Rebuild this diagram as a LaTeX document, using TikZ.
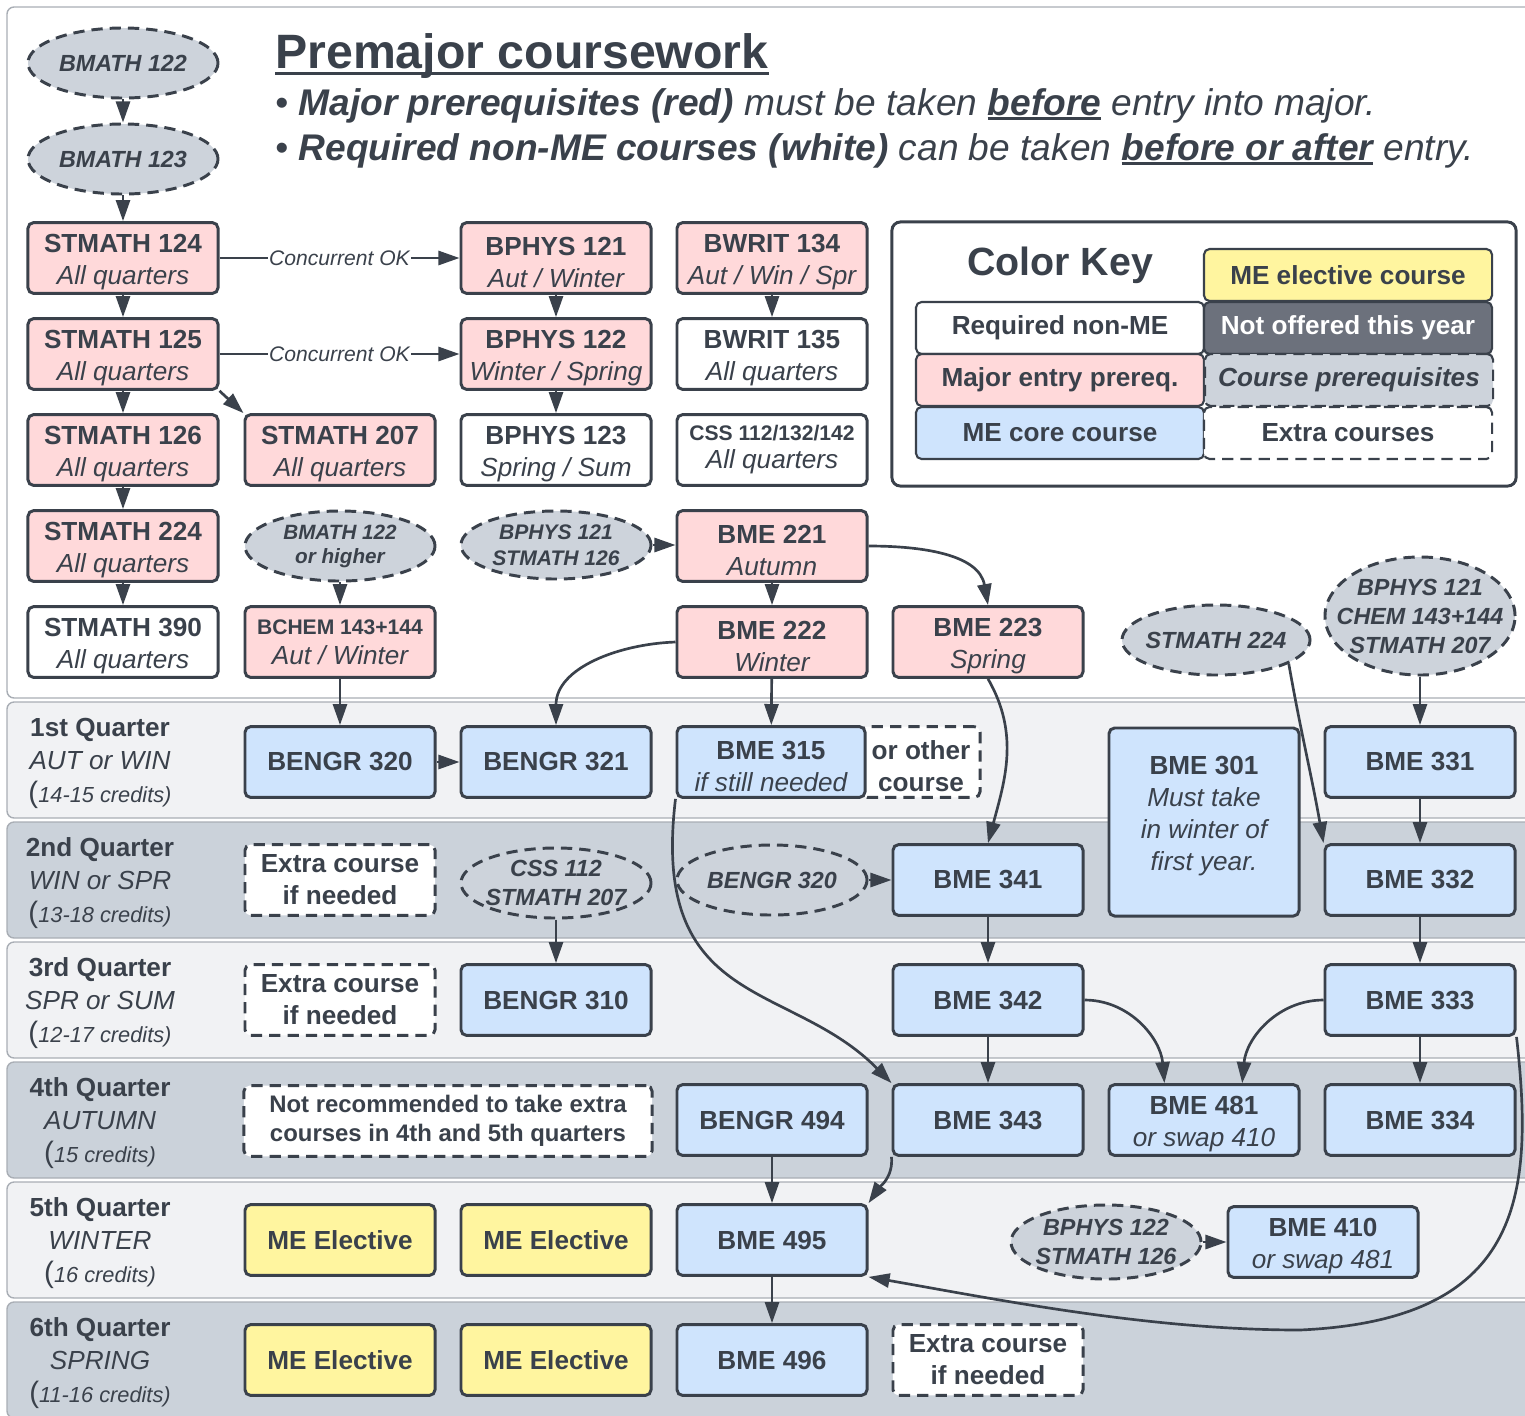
\documentclass[tikz,border=0pt]{standalone}
\usepackage{fontspec}
\setmainfont{Liberation Sans}
\usepackage{xcolor}
\usetikzlibrary{shapes.geometric, arrows.meta}
\definecolor{ink}{HTML}{3A414B}
\definecolor{pinkfill}{HTML}{FFD9DA}
\definecolor{bluefill}{HTML}{CFE4FD}
\definecolor{yellowfill}{HTML}{FFF59F}
\definecolor{greyfill}{HTML}{CDD3DB}
\definecolor{darkfill}{HTML}{6C717C}
\definecolor{bandlight}{HTML}{F1F2F4}
\definecolor{banddark}{HTML}{CBD2DA}
\definecolor{bandline}{HTML}{A9AEB5}

\newcommand\sub[1]{{\mdseries\itshape #1}}
\newcommand\crs[2]{\rule{0pt}{19pt}\textbf{#1}\\\sub{#2}}
\newcommand\credits[1]{{\fontsize{21}{23.5}\selectfont(}{\itshape\fontsize{15.5}{23.5}\selectfont #1 credits)}}
\newcommand\qtr[3]{\textbf{#1}\\\textit{#2}\\\credits{#3}}
\newcommand\thickul[1]{\sbox0{#1}\rlap{\rule[-3.5pt]{\wd0}{1.8pt}}\usebox0}

\tikzset{
  course/.style={draw=ink, line width=2.1pt, rounded corners=4pt, minimum width=4.75cm, minimum height=1.77cm, inner sep=0pt, align=center, text=ink, font=\fontsize{18.6}{22.8}\selectfont\bfseries},
  prereq/.style={course, fill=pinkfill},
  nonme/.style={course, fill=white},
  core/.style={course, fill=bluefill},
  elective/.style={course, fill=yellowfill},
  extra/.style={course, fill=white, dash pattern=on 8pt off 5pt},
  needs/.style={ellipse, draw=ink, fill=greyfill, line width=2.1pt, dash pattern=on 8pt off 5pt, minimum width=4.75cm, minimum height=1.75cm, inner xsep=-8pt, inner ysep=0pt, align=center, text=ink, font=\fontsize{16.6}{21}\selectfont\bfseries\itshape},
  keyentry/.style={draw=ink, line width=1.5pt, rounded corners=4pt, minimum width=7.2cm, minimum height=1.3cm, inner sep=0pt, text=ink, font=\fontsize{18.6}{22}\selectfont\bfseries},
  link/.style={draw=ink, line width=1.9pt, -{Triangle[length=15pt, width=10pt]}},
  band/.style={draw=bandline, line width=1pt, rounded corners=5pt},
  qlabel/.style={align=center, text=ink, font=\fontsize{18.6}{23.5}\selectfont},
  conc/.style={fill=white, inner sep=1pt, text=ink, font=\fontsize{15}{18}\selectfont\itshape},
}

\begin{document}
\begin{tikzpicture}[x=0.025cm, y=-0.025cm]
    \useasboundingbox (0,0) rectangle (1525,1415);

    \draw[band, fill=white] (7,7) rectangle (1545,698);
    \foreach \ytop/\bandcol in {702/bandlight, 822/banddark, 942/bandlight, 1062/banddark, 1182/bandlight, 1302/banddark}
        \draw[band, fill=\bandcol] (7,\ytop) rectangle (1545,{\ytop+116});

    \node[anchor=base west, inner sep=0pt, text=ink, font=\fontsize{34.3}{40}\selectfont\bfseries] (title) at (275,68) {Premajor coursework};
    \draw[ink, line width=2.2pt] ([yshift=-4pt]title.base west) -- ([yshift=-4pt]title.base east);
    \node[anchor=base west, inner sep=0pt, text=ink, font=\fontsize{26.4}{30}\selectfont\itshape] (bulletA) at (275,115) {• \textbf{Major prerequisites (red)} must be taken \thickul{\textbf{before}} entry into major.};
    \node[anchor=base west, inner sep=0pt, text=ink, font=\fontsize{26.4}{30}\selectfont\itshape] (bulletB) at (275,160) {• \textbf{Required non-ME courses (white)} can be taken \thickul{\textbf{before or after}} entry.};

    \node[needs] (bmathA) at (123,63) {BMATH 122};
    \node[needs] (bmathB) at (123,159) {BMATH 123};
    \node[prereq] (st124) at (123,258) {\crs{STMATH 124}{All quarters}};
    \node[prereq] (st125) at (123,354) {\crs{STMATH 125}{All quarters}};
    \node[prereq] (st126) at (123,450) {\crs{STMATH 126}{All quarters}};
    \node[prereq] (st224) at (123,546) {\crs{STMATH 224}{All quarters}};
    \node[nonme] (st390) at (123,642) {\crs{STMATH 390}{All quarters}};

    \node[prereq] (st207) at (340,450) {\crs{STMATH 207}{All quarters}};
    \node[needs, font=\fontsize{14.7}{17}\selectfont\bfseries\itshape] (bmathC) at (340,546) {BMATH 122\\or higher};
    \node[prereq, font=\fontsize{18.6}{21}\selectfont\bfseries] (bchem) at (340,642) {{\fontsize{15}{21}\selectfont BCHEM 143+144}\\\sub{Aut / Winter}};

    \node[prereq] (bp121) at (556,258) {\crs{BPHYS 121}{Aut / Winter}};
    \node[prereq] (bp122) at (556,354) {\crs{BPHYS 122}{Winter / Spring}};
    \node[nonme] (bp123) at (556,450) {\crs{BPHYS 123}{Spring / Sum}};
    \node[needs, minimum height=1.7cm, font=\fontsize{15}{18.5}\selectfont\bfseries\itshape] (preA) at (556,545) {BPHYS 121\\STMATH 126};

    \node[prereq] (bw134) at (772,258) {\crs{BWRIT 134}{Aut / Win / Spr}};
    \node[nonme] (bw135) at (772,354) {\crs{BWRIT 135}{All quarters}};
    \node[nonme, font=\fontsize{18.6}{20}\selectfont\bfseries] (css) at (772,450) {{\fontsize{15}{20}\selectfont CSS 112/132/142}\\\sub{All quarters}};
    \node[prereq] (b221) at (772,546) {\crs{BME 221}{Autumn}};
    \node[prereq] (b222) at (772,642) {\crs{BME 222}{Winter}};
    \node[prereq] (b223) at (988,642) {\crs{BME 223}{Spring}};

    \node[needs, minimum width=4.7cm] (preB) at (1216,640) {STMATH 224};
    \node[needs, minimum height=2.95cm, inner xsep=-13pt, font=\fontsize{16.6}{20.6}\selectfont\bfseries\itshape] (preC) at (1420,616) {BPHYS 121\\CHEM 143+144\\STMATH 207};

    \node[draw=ink, line width=2.1pt, rounded corners=6pt, minimum width=15.6cm, minimum height=6.6cm] (keybox) at (1204,354) {};
    \node[text=ink, font=\fontsize{28}{32}\selectfont\bfseries] (keytitle) at (1060,265) {Color Key};
    \node[keyentry, fill=white] (keyA) at (1060,328) {Required non-ME};
    \node[keyentry, fill=pinkfill] (keyB) at (1060,380) {Major entry prereq.};
    \node[keyentry, fill=bluefill] (keyC) at (1060,433) {ME core course};
    \node[keyentry, fill=yellowfill] (keyD) at (1348,275) {ME elective course};
    \node[keyentry, fill=darkfill, text=white] (keyE) at (1348,328) {Not offered this year};
    \node[keyentry, fill=greyfill, dash pattern=on 8pt off 5pt, font=\fontsize{18.6}{22}\selectfont\bfseries\itshape] (keyF) at (1349,380) {Course prerequisites};
    \node[keyentry, fill=white, dash pattern=on 8pt off 5pt] (keyG) at (1348,433) {Extra courses};

    \node[qlabel] (q1) at (100,763) {\qtr{1st Quarter}{AUT or WIN}{14-15}};
    \node[qlabel] (q2) at (100,883) {\qtr{2nd Quarter}{WIN or SPR}{13-18}};
    \node[qlabel] (q3) at (100,1003) {\qtr{3rd Quarter}{SPR or SUM}{12-17}};
    \node[qlabel] (q4) at (100,1123) {\qtr{4th Quarter}{AUTUMN}{15}};
    \node[qlabel] (q5) at (100,1243) {\qtr{5th Quarter}{WINTER}{16}};
    \node[qlabel] (q6) at (100,1363) {\qtr{6th Quarter}{SPRING}{11-16}};

    \node[core] (eng320) at (340,762) {BENGR 320};
    \node[core] (eng321) at (556,762) {BENGR 321};
    \node[extra, minimum width=2.95cm] (other) at (921,762) {\rule{0pt}{19pt}or other\\course};
    \node[core, minimum width=4.7cm] (b315) at (771,762) {\crs{BME 315}{if still needed}};
    \node[core, minimum height=4.7cm] (b301) at (1204,822) {\textbf{BME 301}\\\sub{Must take}\\\sub{in winter of}\\\sub{first year.}\rule[-12pt]{0pt}{1pt}};
    \node[core] (b331) at (1420,762) {BME 331};

    \node[extra] (xtraA) at (340,880) {Extra course\\if needed};
    \node[needs] (preD) at (556,883) {CSS 112\\STMATH 207};
    \node[needs] (preE) at (772,880) {BENGR 320};
    \node[core] (b341) at (988,880) {BME 341};
    \node[core] (b332) at (1420,880) {BME 332};

    \node[extra] (xtraB) at (340,1000) {Extra course\\if needed};
    \node[core] (eng310) at (556,1000) {BENGR 310};
    \node[core] (b342) at (988,1000) {BME 342};
    \node[core] (b333) at (1420,1000) {BME 333};

    \node[extra, minimum width=10.2cm, font=\fontsize{17}{20.6}\selectfont\bfseries] (norec) at (448,1121) {Not recommended to take extra\\courses in 4th and 5th quarters};
    \node[core] (eng494) at (772,1120) {BENGR 494};
    \node[core] (b343) at (988,1120) {BME 343};
    \node[core] (b481) at (1204,1120) {\crs{BME 481}{or swap 410}};
    \node[core] (b334) at (1420,1120) {BME 334};

    \node[elective] (elA) at (340,1240) {ME Elective};
    \node[elective] (elB) at (556,1240) {ME Elective};
    \node[core] (b495) at (772,1240) {BME 495};
    \node[needs, minimum height=1.85cm] (preF) at (1106,1242) {BPHYS 122\\STMATH 126};
    \node[core] (b410) at (1323,1242) {\crs{BME 410}{or swap 481}};

    \node[elective] (elC) at (340,1360) {ME Elective};
    \node[elective] (elD) at (556,1360) {ME Elective};
    \node[core] (b496) at (772,1360) {BME 496};
    \node[extra] (xtraC) at (988,1360) {Extra course\\if needed};

    \draw[link] (bmathA) -- (bmathB);
    \draw[link] (bmathB) -- (st124);
    \draw[link] (st124) -- (st125);
    \draw[link] (st125) -- (st126);
    \draw[link] (st126) -- (st224);
    \draw[link] (st224) -- (st390);
    \draw[link] (st125.south east) -- (st207.north west);
    \draw[link] (st124) -- node[conc] {Concurrent OK} (bp121);
    \draw[link] (st125) -- node[conc] {Concurrent OK} (bp122);
    \draw[link] (bp121) -- (bp122);
    \draw[link] (bp122) -- (bp123);
    \draw[link] (bw134) -- (bw135);
    \draw[link] (bmathC) -- (bchem);
    \draw[link] (preA.east) -- (b221.west |- preA.east);
    \draw[link] (b221) -- (b222);
    \draw[link] (b221.east) to[out=0, in=100] (b223.north);
    \draw[link] (b222) -- (b315);
    \draw[link] (b222.west) to[out=182, in=90] (eng321.north);
    \draw[link] (bchem) -- (eng320);
    \draw[link] (eng320) -- (eng321);
    \draw[link] (b223.south) to[out=-60, in=75] (b341.north);
    \draw[link] (preB.-18) to[out=-80, in=100] (b332.north west);
    \draw[link] (preC) -- (b331);
    \draw[link] (b331) -- (b332);
    \draw[link] (b332) -- (b333);
    \draw[link] (b333) -- (b334);
    \draw[link] (preE.east) -- (b341.west |- preE.east);
    \draw[link] (b341) -- (b342);
    \draw[link] (b342) -- (b343);
    \draw[link] (preD) -- (eng310);
    \draw[link] (b315.south west) .. controls (650,1010) and (790,980) .. (b343.north west);
    \draw[link] (b342.east) to[out=0, in=95] (b481.137);
    \draw[link] (b333.west) to[out=180, in=85] (b481.44);
    \draw[link] (eng494) -- (b495);
    \draw[link] (b343.south west) to[out=-85, in=55] (b495.north east);
    \draw[link] (b333.south east) .. controls (1535,1200) and (1520,1320) .. (1300,1330) .. controls (1150,1330) and (1000,1300) .. (b495.south east);
    \draw[link] (b495) -- (b496);
    \draw[link] (preF) -- (b410);

\end{tikzpicture}
\end{document}
